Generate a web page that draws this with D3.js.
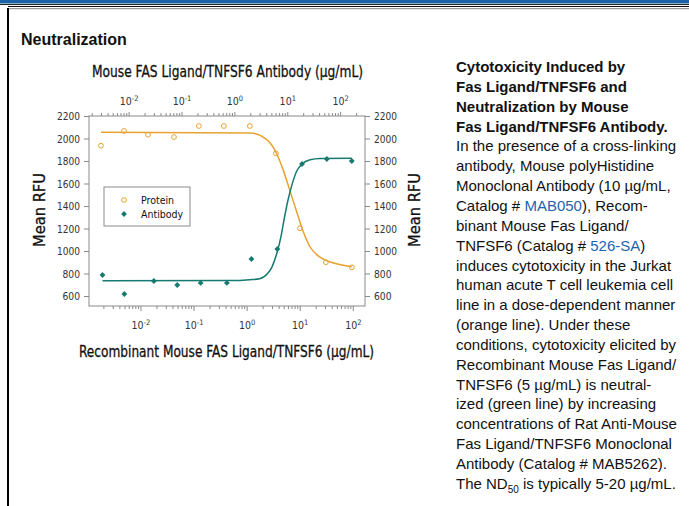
<!DOCTYPE html>
<html>
<head>
<meta charset="utf-8">
<script src="https://cdn.jsdelivr.net/npm/d3@7"></script>
<style>
  body { margin: 0; background: #fff; }
  svg text { font-family: 'DejaVu Sans Condensed', 'DejaVu Sans', sans-serif; font-stretch: condensed; }
</style>
</head>
<body>
<div id="display"></div>
<script>
// protein (bottom axis) concentrations in µg/mL and mean RFU
const proteinConc = [0.0018, 0.0049, 0.0138, 0.0428, 0.126, 0.373, 1.15, 3.56, 10.1, 31.1, 96.2];
const proteinRFU  = [1936, 2067, 2034, 2013, 2111, 2111, 2111, 1868, 1202, 900, 855];
// antibody (top axis) concentrations in µg/mL and mean RFU
const antibodyConc = [0.0032, 0.0083, 0.030, 0.083, 0.23, 0.72, 2.1, 6.5, 19, 56, 166];
const antibodyRFU  = [787, 618, 733, 698, 716, 716, 929, 1018, 1773, 1818, 1800];
// fitted curves
const proteinFitConc = [0.0018, 1.15, 2.4, 3.55, 4.8, 6.6, 8.9, 11.5, 15.5, 24, 42, 96];
const proteinFitRFU  = [2055, 2050, 1990, 1880, 1730, 1530, 1340, 1180, 1040, 945, 895, 860];
const antibodyFitConc = [0.0032, 0.83, 1.95, 3.0, 4.25, 5.1, 6.3, 7.6, 8.7, 10.2, 12.3, 15.1, 19, 27, 42, 166];
const antibodyFitRFU  = [736, 737, 745, 754, 800, 855, 975, 1128, 1280, 1442, 1590, 1711, 1773, 1811, 1823, 1825];
// tick values
const yTicks = [600, 800, 1000, 1200, 1400, 1600, 1800, 2000, 2200];
const decadeExps = [-2, -1, 0, 1, 2];
const legendItems = ['Protein', 'Antibody'];

const paraBold = ['Cytotoxicity Induced by', 'Fas Ligand/TNFSF6 and', 'Neutralization by Mouse',
  'Fas Ligand/TNFSF6 Antibody.'];
const paraLines = [
  [['In the presence of a cross-linking']],
  [['antibody, Mouse polyHistidine']],
  [['Monoclonal Antibody (10 µg/mL,']],
  [['Catalog # '], ['MAB050', 'link'], ['), Recom-']],
  [['binant Mouse Fas Ligand/']],
  [['TNFSF6 (Catalog # '], ['526-SA', 'link'], [')']],
  [['induces cytotoxicity in the Jurkat']],
  [['human acute T cell leukemia cell']],
  [['line in a dose-dependent manner']],
  [['(orange line). Under these']],
  [['conditions, cytotoxicity elicited by']],
  [['Recombinant Mouse Fas Ligand/']],
  [['TNFSF6 (5 µg/mL) is neutral-']],
  [['ized (green line) by increasing']],
  [['concentrations of Rat Anti-Mouse']],
  [['Fas Ligand/TNFSF6 Monoclonal']],
  [['Antibody (Catalog # MAB5262).']],
  [['The ND'], ['50', 'sub'], [' is typically 5-20 µg/mL.']]
];

const W = 689, H = 506;
const orange = '#E8A232', teal = '#177A70', axisCol = '#8a8a8a', txt = '#333';
const arial = "'Liberation Sans', Arial, sans-serif";

const svg = d3.select('#display').append('svg')
  .attr('width', W).attr('height', H);

// page frame
svg.append('rect').attr('x', 0).attr('y', 0).attr('width', W).attr('height', 3.5).attr('fill', '#1B63A5');
svg.append('line').attr('x1', 0).attr('x2', W).attr('y1', 4.5).attr('y2', 4.5).attr('stroke', '#222').attr('stroke-width', 1);
svg.append('line').attr('x1', 8).attr('x2', W).attr('y1', 6.5).attr('y2', 6.5).attr('stroke', '#111').attr('stroke-width', 1.2);
svg.append('line').attr('x1', 8).attr('x2', W).attr('y1', 8.7).attr('y2', 8.7).attr('stroke', '#999').attr('stroke-width', 1.2);
svg.append('line').attr('x1', 8).attr('x2', 8).attr('y1', 8).attr('y2', H).attr('stroke', '#000').attr('stroke-width', 2);

svg.append('text')
  .attr('x', 21).attr('y', 45)
  .style('font-family', arial).style('font-stretch', 'normal')
  .style('font-weight', 'bold').style('font-size', '16px').attr('fill', '#111')
  .text('Neutralization');

// plot area
const plot = {left: 89, right: 365, top: 116, bottom: 306};

const xBottom = d3.scaleLog().domain([Math.pow(10, -2.97), Math.pow(10, 2.23)]).range([plot.left, plot.right]);
const xTop = d3.scaleLog().domain([Math.pow(10, -2.75), Math.pow(10, 2.47)]).range([plot.left, plot.right]);
const y = d3.scaleLinear().domain([2200 - (plot.bottom - plot.top) / 180 * 1600, 2200]).range([plot.bottom, plot.top]);

const g = svg.append('g');

g.append('rect')
  .attr('x', plot.left).attr('y', plot.top)
  .attr('width', plot.right - plot.left).attr('height', plot.bottom - plot.top)
  .attr('fill', 'none').attr('stroke', axisCol).attr('stroke-width', 1);

let supLabel = (sel) => {
  sel.each(function(d) {
    let t = d3.select(this);
    t.text(null);
    t.append('tspan').text('10');
    t.append('tspan').attr('dy', -4).style('font-size', '7.5px').text(String(Math.round(Math.log10(d))));
  });
};

let styleAxis = (a, labelSize) => {
  a.select('.domain').remove();
  a.selectAll('.tick line').attr('stroke', axisCol);
  a.selectAll('.tick text').attr('fill', txt).style('font-size', labelSize);
};

let minorTicks = (scale) => {
  let out = [];
  for (let e = -3; e <= 2; e++) for (let m = 2; m <= 9; m++) {
    let v = m * Math.pow(10, e);
    if (v >= scale.domain()[0] && v <= scale.domain()[1]) out.push(v);
  }
  return out;
};
const majors = decadeExps.map(e => Math.pow(10, e));

// bottom axis
let bMinor = g.append('g').attr('transform', `translate(0,${plot.bottom})`)
  .call(d3.axisBottom(xBottom).tickValues(minorTicks(xBottom)).tickSize(3).tickFormat(''));
styleAxis(bMinor);
let bMajor = g.append('g').attr('transform', `translate(0,${plot.bottom})`)
  .call(d3.axisBottom(xBottom).tickValues(majors).tickSize(5).tickPadding(11));
styleAxis(bMajor, '10.5px');
bMajor.selectAll('.tick text').call(supLabel);

// top axis
let tMinor = g.append('g').attr('transform', `translate(0,${plot.top})`)
  .call(d3.axisTop(xTop).tickValues(minorTicks(xTop)).tickSize(3).tickFormat(''));
styleAxis(tMinor);
let tMajor = g.append('g').attr('transform', `translate(0,${plot.top})`)
  .call(d3.axisTop(xTop).tickValues(majors).tickSize(4).tickPadding(7));
styleAxis(tMajor, '10.5px');
tMajor.selectAll('.tick text').call(supLabel);

// left and right axes
let yl = g.append('g').attr('transform', `translate(${plot.left},0)`)
  .call(d3.axisLeft(y).tickValues(yTicks).tickSize(5).tickPadding(4).tickFormat(d3.format('d')));
styleAxis(yl, '11px');
let yr = g.append('g').attr('transform', `translate(${plot.right},0)`)
  .call(d3.axisRight(y).tickValues(yTicks).tickSize(5).tickPadding(4).tickFormat(d3.format('d')));
styleAxis(yr, '11px');
[yl, yr].forEach(a => {
  a.selectAll('.tick text').attr('textLength', 23).attr('lengthAdjust', 'spacingAndGlyphs')
    .filter(d => d < 1000).attr('textLength', 17.5);
});

// axis titles
let title = (x, yy, str, len, rot) => {
  g.append('text')
    .attr('transform', `translate(${x},${yy})` + (rot ? ' rotate(-90)' : ''))
    .attr('text-anchor', 'middle')
    .attr('textLength', len).attr('lengthAdjust', 'spacingAndGlyphs')
    .style('font-size', '16px').attr('fill', '#111')
    .attr('stroke', '#111').attr('stroke-width', 0.3)
    .text(str);
};
title(227.5, 77, 'Mouse FAS Ligand/TNFSF6 Antibody (µg/mL)', 271);
title(226.5, 357, 'Recombinant Mouse FAS Ligand/TNFSF6 (µg/mL)', 295);
title(45, 210, 'Mean RFU', 74, true);
title(420, 210, 'Mean RFU', 74, true);

// fit curves
const proteinFit = proteinFitConc.map((c, i) => [c, proteinFitRFU[i]]);
const antibodyFit = antibodyFitConc.map((c, i) => [c, antibodyFitRFU[i]]);

g.append('path').datum(proteinFit)
  .attr('fill', 'none').attr('stroke', orange).attr('stroke-width', 1.5)
  .attr('d', d3.line().x(d => xBottom(d[0])).y(d => y(d[1])).curve(d3.curveMonotoneX));
g.append('path').datum(antibodyFit)
  .attr('fill', 'none').attr('stroke', teal).attr('stroke-width', 1.5)
  .attr('d', d3.line().x(d => xTop(d[0])).y(d => y(d[1])).curve(d3.curveMonotoneX));

// points
const protein = proteinConc.map((c, i) => ({c: c, v: proteinRFU[i]}));
const antibody = antibodyConc.map((c, i) => ({c: c, v: antibodyRFU[i]}));

g.append('g').selectAll('circle').data(protein).join('circle')
  .attr('cx', d => xBottom(d.c)).attr('cy', d => y(d.v)).attr('r', 2.4)
  .attr('fill', 'none').attr('stroke', orange).attr('stroke-width', 1);

const diamond = d3.symbol().type(d3.symbolSquare).size(17);
g.append('g').selectAll('path').data(antibody).join('path')
  .attr('transform', d => `translate(${xTop(d.c)},${y(d.v)}) rotate(45)`)
  .attr('d', diamond).attr('fill', teal);

// legend
const lg = g.append('g').attr('transform', 'translate(104,187)');
lg.append('rect').attr('width', 86).attr('height', 39)
  .attr('fill', '#fff').attr('stroke', axisCol).attr('stroke-width', 1);
legendItems.forEach((name, i) => {
  let row = lg.append('g').attr('transform', `translate(0,${13 + i * 14})`);
  if (i === 0) {
    row.append('circle').attr('cx', 20).attr('cy', 0).attr('r', 2.4)
      .attr('fill', 'none').attr('stroke', orange);
  } else {
    row.append('path').attr('transform', 'translate(20,0) rotate(45)').attr('d', diamond).attr('fill', teal);
  }
  row.append('text').attr('x', 37).attr('y', 3.5).style('font-size', '10.5px').attr('fill', '#111').text(name);
});

// description paragraph
const para = svg.append('g');
const px = 456, py0 = 72, lh = 19.85;
paraBold.forEach((line, i) => {
  para.append('text').attr('x', px).attr('y', py0 + i * lh)
    .style('font-family', arial).style('font-stretch', 'normal')
    .style('font-weight', 'bold').style('font-size', '15px').attr('fill', '#111').text(line);
});
paraLines.forEach((parts, i) => {
  let t = para.append('text').attr('x', px).attr('y', py0 + (i + paraBold.length) * lh)
    .style('font-family', arial).style('font-stretch', 'normal')
    .style('font-size', '15px').attr('fill', '#111');
  let prevSub = false;
  parts.forEach(p => {
    let s = t.append('tspan').text(p[0]);
    if (p[1] === 'link') s.attr('fill', '#1F63B0');
    if (p[1] === 'sub') s.attr('dy', 4).style('font-size', '10px');
    if (prevSub) s.attr('dy', -4);
    prevSub = p[1] === 'sub';
  });
});
</script>
</body>
</html>
